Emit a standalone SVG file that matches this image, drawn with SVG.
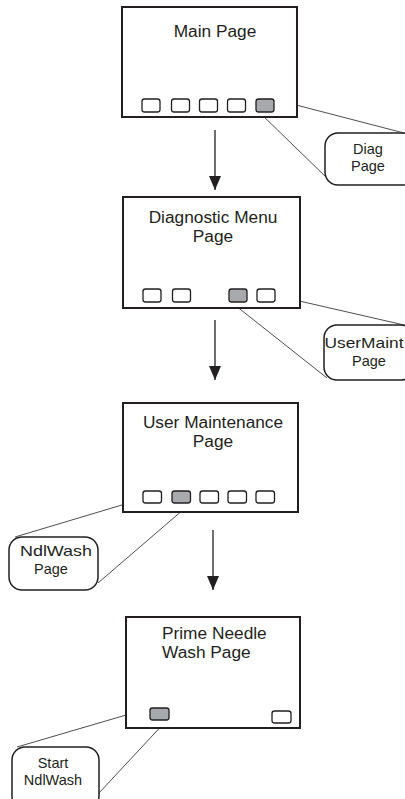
<svg xmlns="http://www.w3.org/2000/svg" width="405" height="799" viewBox="0 0 405 799">
<defs>
<style>
.page{fill:#fff;stroke:#231f20;stroke-width:2}
.btn{fill:#fff;stroke:#231f20;stroke-width:1.3}
.sel{fill:#a7a9ac;stroke:#231f20;stroke-width:1.3}
.call{fill:#fff;stroke:#231f20;stroke-width:1.5}
.ln{stroke:#231f20;stroke-width:0.8;fill:none}
.arr{stroke:#231f20;stroke-width:1.3;fill:none}
.t{font-family:"Liberation Sans",Arial,sans-serif;fill:#231f20}
.tp{font-size:17.3px}
.tc{font-size:14.5px}
</style>
<marker id="ah" markerWidth="16" markerHeight="12" refX="14" refY="6" orient="auto" markerUnits="userSpaceOnUse">
<path d="M0,0 L14,6 L0,12 Z" fill="#231f20"/>
</marker>
</defs>
<rect width="405" height="799" fill="#fff"/>

<g id="connectors">
<line class="arr" x1="215" y1="130" x2="215" y2="190" marker-end="url(#ah)"/>
<line class="arr" x1="215" y1="320" x2="215" y2="380" marker-end="url(#ah)"/>
<line class="arr" x1="213" y1="530" x2="213" y2="590" marker-end="url(#ah)"/>
<line class="ln" x1="273" y1="99" x2="404" y2="133"/>
<line class="ln" x1="259" y1="112" x2="327" y2="178"/>
<line class="ln" x1="247" y1="289" x2="404" y2="325"/>
<line class="ln" x1="231" y1="302" x2="327" y2="378"/>
<line class="ln" x1="172" y1="490" x2="15" y2="537"/>
<line class="ln" x1="191" y1="503" x2="98" y2="583"/>
<line class="ln" x1="150" y1="708" x2="17" y2="747"/>
<line class="ln" x1="167" y1="720" x2="99" y2="793"/>
</g>

<g id="main-page">
<rect class="page" x="122" y="7" width="175" height="110"/>
<text class="t tp" x="215" y="37" text-anchor="middle">Main Page</text>
<rect class="btn" x="142" y="99" width="18" height="13" rx="2.5"/>
<rect class="btn" x="171.5" y="99" width="18" height="13" rx="2.5"/>
<rect class="btn" x="199.5" y="99" width="18" height="13" rx="2.5"/>
<rect class="btn" x="227.5" y="99" width="18" height="13" rx="2.5"/>
<rect class="sel" x="256" y="99" width="18" height="13" rx="2.5"/>
</g>

<g id="diag-callout">
<rect class="call" x="325" y="133" width="90" height="52" rx="13"/>
<text class="t tc" x="368" y="154" text-anchor="middle">Diag</text>
<text class="t tc" x="368" y="170.5" text-anchor="middle">Page</text>
</g>

<g id="diag-menu-page">
<rect class="page" x="123" y="197" width="177" height="111"/>
<text class="t tp" x="213" y="223" text-anchor="middle">Diagnostic Menu</text>
<text class="t tp" x="213" y="242" text-anchor="middle">Page</text>
<rect class="btn" x="143" y="289" width="18" height="13" rx="2.5"/>
<rect class="btn" x="172.5" y="289" width="18" height="13" rx="2.5"/>
<rect class="sel" x="229" y="289" width="18" height="13" rx="2.5"/>
<rect class="btn" x="257" y="289" width="18" height="13" rx="2.5"/>
</g>

<g id="usermaint-callout">
<rect class="call" x="324" y="325" width="90" height="55" rx="13"/>
<text class="t tc" x="324.5" y="348" textLength="79" lengthAdjust="spacingAndGlyphs">UserMaint</text>
<text class="t tc" x="369" y="366" text-anchor="middle">Page</text>
</g>

<g id="user-maint-page">
<rect class="page" x="123" y="403" width="175" height="109"/>
<text class="t tp" x="213" y="428" text-anchor="middle">User Maintenance</text>
<text class="t tp" x="213" y="447" text-anchor="middle">Page</text>
<rect class="btn" x="143" y="491" width="18.5" height="12" rx="2.5"/>
<rect class="sel" x="172" y="491" width="18.5" height="12" rx="2.5"/>
<rect class="btn" x="200" y="491" width="18.5" height="12" rx="2.5"/>
<rect class="btn" x="228" y="491" width="18.5" height="12" rx="2.5"/>
<rect class="btn" x="256" y="491" width="18.5" height="12" rx="2.5"/>
</g>

<g id="ndlwash-callout">
<rect class="call" x="9" y="537" width="89" height="53" rx="13"/>
<text class="t tc" x="20" y="556" textLength="72" lengthAdjust="spacingAndGlyphs">NdlWash</text>
<text class="t tc" x="51" y="574" text-anchor="middle">Page</text>
</g>

<g id="prime-needle-page">
<rect class="page" x="126" y="617" width="174" height="111"/>
<text class="t tp" x="162" y="638.5">Prime Needle</text>
<text class="t tp" x="162" y="657.5">Wash Page</text>
<rect class="sel" x="150" y="708" width="19" height="12" rx="2.5"/>
<rect class="btn" x="272" y="711" width="19" height="12" rx="2.5"/>
</g>

<g id="start-callout">
<rect class="call" x="12" y="747" width="87" height="62" rx="13"/>
<text class="t tc" x="53" y="768" text-anchor="middle">Start</text>
<text class="t tc" x="53" y="785" text-anchor="middle">NdlWash</text>
</g>
</svg>
